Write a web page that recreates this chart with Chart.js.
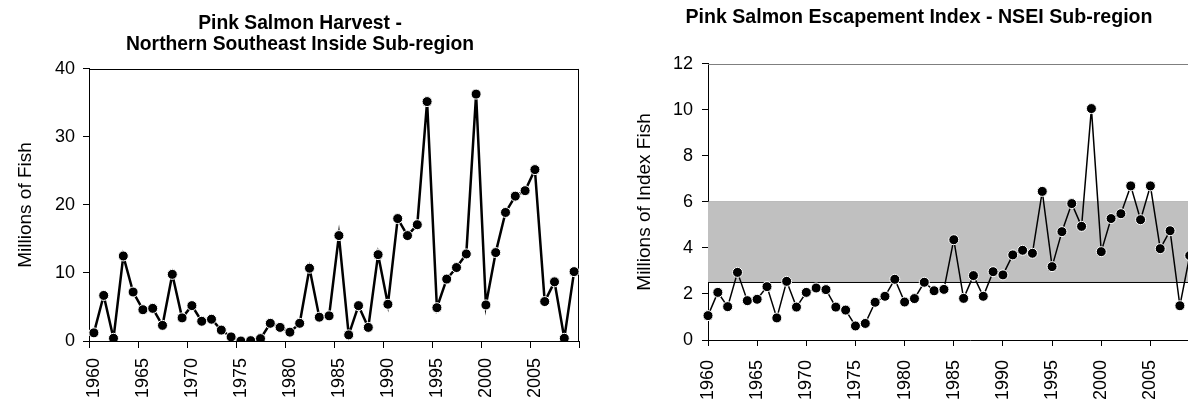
<!DOCTYPE html>
<html>
<head>
<meta charset="utf-8">
<title>Pink Salmon - NSEI</title>
<script src="https://cdn.jsdelivr.net/npm/chart.js@4.4.1/dist/chart.umd.min.js"></script>
<style>
    html, body { margin: 0; padding: 0; background: #fff; overflow: hidden; width: 1188px; height: 402px; }
    #harvestChart { position: absolute; left: 0; top: 0; }
    #escChart { position: absolute; left: 600px; top: 0; }
</style>
</head>
<body>
<canvas id="harvestChart" width="600" height="402"></canvas>
<canvas id="escChart" width="638" height="402"></canvas>
<script>
// years 1960 - 2009
const YEARS = [
    1960, 1961, 1962, 1963, 1964, 1965, 1966, 1967, 1968, 1969,
    1970, 1971, 1972, 1973, 1974, 1975, 1976, 1977, 1978, 1979,
    1980, 1981, 1982, 1983, 1984, 1985, 1986, 1987, 1988, 1989,
    1990, 1991, 1992, 1993, 1994, 1995, 1996, 1997, 1998, 1999,
    2000, 2001, 2002, 2003, 2004, 2005, 2006, 2007, 2008, 2009
];

// harvest, millions of fish
const HARVEST = [
    1.2, 6.7, 0.4, 12.5, 7.2, 4.6, 4.8, 2.3, 9.8, 3.4,
    5.2, 2.9, 3.2, 1.6, 0.6, 0.0, 0.05, 0.35, 2.6, 2.0,
    1.3, 2.6, 10.7, 3.5, 3.7, 15.5, 0.9, 5.2, 2.0, 12.7,
    5.4, 18.0, 15.5, 17.1, 35.2, 4.9, 9.1, 10.8, 12.8, 36.3,
    5.3, 13.0, 18.9, 21.3, 22.1, 25.2, 5.8, 8.7, 0.4, 10.2
];

// escapement index, millions of index fish
const ESCAPEMENT = [
    1.06, 2.07, 1.45, 2.94, 1.71, 1.77, 2.32, 0.96, 2.55, 1.43,
    2.07, 2.26, 2.19, 1.43, 1.30, 0.61, 0.72, 1.64, 1.90, 2.64,
    1.65, 1.80, 2.51, 2.14, 2.20, 4.36, 1.81, 2.80, 1.90, 2.97,
    2.83, 3.70, 3.90, 3.77, 6.46, 3.19, 4.71, 5.93, 4.94, 10.06,
    3.84, 5.28, 5.49, 6.70, 5.23, 6.70, 3.97, 4.75, 1.49, 3.67
];

// escapement goal range (gray band)
const GOAL_LOWER = 2.5;
const GOAL_UPPER = 6;

const HARVEST_Y_TICKS = [0, 10, 20, 30, 40];
const ESC_Y_TICKS = [0, 2, 4, 6, 8, 10, 12];
const ESC_X_TICKS = [1960, 1965, 1970, 1975, 1980, 1985, 1990, 1995, 2000, 2005];

// right plot runs on past the window edge
const ESC_X_MIN = 1960;
const ESC_X_MAX = 2013.3;

Chart.defaults.font.family = "'Liberation Sans', Arial, sans-serif";
Chart.defaults.color = '#000';

// frame lines round the plot area
const plotFrame = {
    id: 'plotFrame',
    beforeDatasetsDraw(chart, args, opts) {
        const { ctx, chartArea: a } = chart;
        ctx.save();
        ctx.lineWidth = 1;
        ctx.strokeStyle = opts.color || '#000';
        ctx.beginPath();
        if (opts.top) {
            ctx.moveTo(a.left, Math.round(a.top) + 0.5);
            ctx.lineTo(a.right, Math.round(a.top) + 0.5);
        }
        if (opts.right) {
            ctx.moveTo(Math.round(a.right) - 0.5, a.top);
            ctx.lineTo(Math.round(a.right) - 0.5, a.bottom);
        }
        ctx.stroke();
        ctx.restore();
    }
};

const pointStyle = {
    pointRadius: 5,
    pointHoverRadius: 5,
    pointBackgroundColor: '#000',
    pointBorderColor: '#fff',
    pointBorderWidth: 1
};

// 左圖: 漁獲量
new Chart(document.getElementById('harvestChart'), {
    type: 'line',
    data: {
        labels: YEARS.map(String),
        datasets: [{
            data: HARVEST,
            borderColor: '#000',
            borderWidth: 2.5,
            tension: 0,
            ...pointStyle
        }]
    },
    options: {
        responsive: false,
        animation: false,
        layout: { padding: 0 },
        plugins: {
            legend: { display: false },
            tooltip: { enabled: false },
            title: {
                display: true,
                text: ['Pink Salmon Harvest -', 'Northern Southeast Inside Sub-region'],
                font: { size: 19.3, weight: 'bold', lineHeight: 1.11 },
                padding: { top: 12.5, bottom: 13.6 }
            },
            plotFrame: { top: true, right: true, color: '#000' }
        },
        scales: {
            x: {
                type: 'category',
                offset: true,
                grid: {
                    offset: true,
                    drawOnChartArea: false,
                    tickLength: 7,
                    color: c => (c.type === 'scale' || c.index % 5 === 0) ? '#000' : 'rgba(0,0,0,0)'
                },
                border: { color: '#000' },
                ticks: {
                    autoSkip: false,
                    maxRotation: 90,
                    minRotation: 90,
                    padding: 10,
                    font: { size: 18 },
                    callback: function (val, idx) {
                        return idx % 5 === 0 ? this.getLabelForValue(val) : '';
                    }
                },
                afterFit: s => { s.height = 61; s.paddingLeft = 0; s.paddingRight = 21; }
            },
            y: {
                min: 0,
                max: 40,
                afterBuildTicks: s => { s.ticks = HARVEST_Y_TICKS.map(v => ({ value: v })); },
                grid: { drawOnChartArea: false, tickLength: 6, color: '#000' },
                border: { color: '#000' },
                ticks: { padding: 8, font: { size: 18 } },
                title: {
                    display: true,
                    text: 'Millions of Fish',
                    font: { size: 19 },
                    padding: { top: 14.6, bottom: 0 }
                },
                afterFit: s => { s.width = 89; }
            }
        }
    },
    plugins: [plotFrame]
});

// 右圖: 逃逸指數
new Chart(document.getElementById('escChart'), {
    type: 'line',
    data: {
        datasets: [{
            data: YEARS.map((yr, i) => ({ x: yr, y: ESCAPEMENT[i] })),
            borderColor: '#000',
            borderWidth: 1.5,
            tension: 0,
            clip: false,
            order: 0,
            ...pointStyle
        }, {
            data: [{ x: ESC_X_MIN, y: GOAL_UPPER }, { x: ESC_X_MAX, y: GOAL_UPPER }],
            borderColor: '#7f7f7f',
            borderWidth: 1,
            pointRadius: 0,
            fill: false,
            order: 2
        }, {
            data: [{ x: ESC_X_MIN, y: GOAL_LOWER }, { x: ESC_X_MAX, y: GOAL_LOWER }],
            borderColor: '#000',
            borderWidth: 1,
            pointRadius: 0,
            backgroundColor: '#c0c0c0',
            fill: '-1',
            order: 1
        }]
    },
    options: {
        responsive: false,
        animation: false,
        layout: { padding: 0 },
        plugins: {
            legend: { display: false },
            tooltip: { enabled: false },
            title: {
                display: true,
                text: 'Pink Salmon Escapement Index - NSEI Sub-region',
                font: { size: 19.6, weight: 'bold', lineHeight: 1.1 },
                padding: { top: 7.2, bottom: 35.2 }
            },
            plotFrame: { top: true, right: false, color: '#7f7f7f' }
        },
        scales: {
            x: {
                type: 'linear',
                min: ESC_X_MIN,
                max: ESC_X_MAX,
                afterBuildTicks: s => { s.ticks = ESC_X_TICKS.map(v => ({ value: v })); },
                grid: { drawOnChartArea: false, tickLength: 6, color: '#000' },
                border: { color: '#000' },
                ticks: {
                    maxRotation: 90,
                    minRotation: 90,
                    padding: 14,
                    font: { size: 18 },
                    callback: v => String(v)
                },
                afterFit: s => { s.height = 62; s.paddingLeft = 0; s.paddingRight = 0; }
            },
            y: {
                min: 0,
                max: 12,
                afterBuildTicks: s => { s.ticks = ESC_Y_TICKS.map(v => ({ value: v })); },
                grid: { drawOnChartArea: false, tickLength: 6, color: '#000' },
                border: { color: '#000' },
                ticks: { padding: 9, font: { size: 18 } },
                title: {
                    display: true,
                    text: 'Millions of Index Fish',
                    font: { size: 19 },
                    padding: { top: 33.6, bottom: 0 }
                },
                afterFit: s => { s.width = 108; }
            }
        }
    },
    plugins: [plotFrame]
});
</script>
</body>
</html>
